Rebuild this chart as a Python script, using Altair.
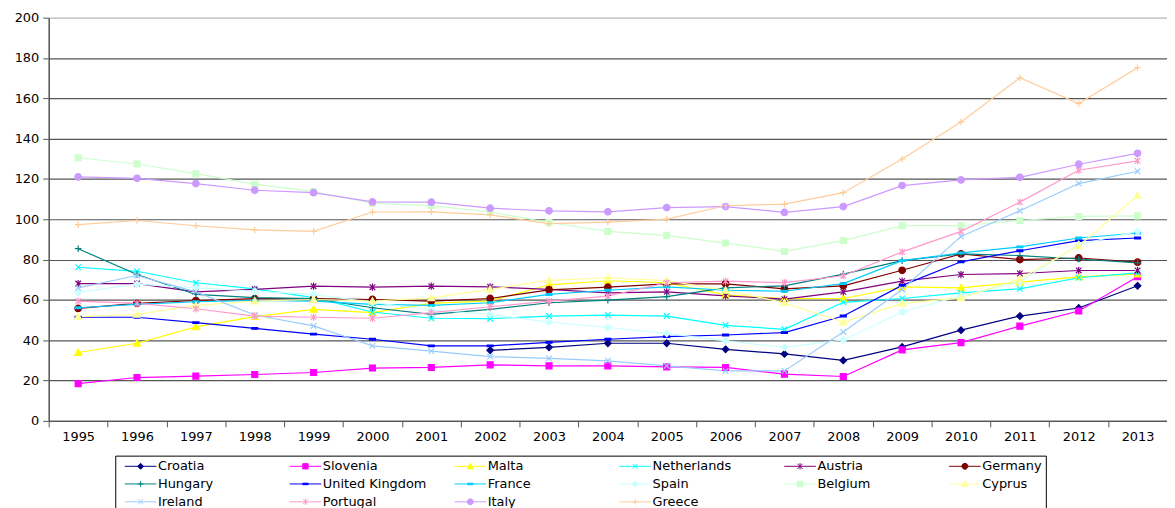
import altair as alt
import pandas as pd

years = [str(y) for y in range(1995, 2014)]

countries = ["Croatia", "Slovenia", "Malta", "Netherlands", "Austria", "Germany",
             "Hungary", "United Kingdom", "France", "Spain", "Belgium", "Cyprus",
             "Ireland", "Portugal", "Italy", "Greece"]

colors = ["#000080", "#FF00FF", "#FFFF00", "#00FFFF", "#800080", "#800000",
          "#008080", "#0000FF", "#00CCFF", "#CCFFFF", "#CCFFCC", "#FFFF99",
          "#99CCFF", "#FF99CC", "#CC99FF", "#FFCC99"]

croatia = [None, None, None, None, None, None, None, 35.0, 36.5, 38.5, 38.5, 35.5, 33.2, 30.0, 36.7, 45.0, 52.0, 56.0, 67.0]
slovenia = [18.5, 21.5, 22.2, 23.0, 24.0, 26.2, 26.5, 27.8, 27.3, 27.3, 26.8, 26.5, 23.2, 22.0, 35.2, 38.8, 47.0, 54.5, 71.5]
malta = [33.9, 38.5, 46.6, 51.7, 55.3, 53.7, 58.3, 59.5, 67.5, 69.5, 68.5, 62.5, 60.6, 60.7, 66.5, 66.0, 68.8, 71.4, 72.8]
netherlands = [76.2, 74.2, 68.5, 65.5, 61.1, 54.0, 50.9, 50.7, 52.0, 52.5, 52.0, 47.4, 45.4, 58.8, 60.7, 63.5, 65.5, 71.0, 73.4]
austria = [68.1, 68.1, 64.0, 65.2, 66.8, 66.3, 66.8, 66.5, 65.2, 63.5, 64.0, 62.0, 60.4, 64.0, 69.3, 72.6, 73.1, 74.6, 74.6]
germany = [55.8, 58.3, 59.7, 60.6, 60.6, 60.2, 59.4, 60.7, 65.0, 66.3, 68.0, 68.0, 65.5, 67.0, 74.7, 82.8, 80.0, 80.8, 78.7]
hungary = [85.4, 72.6, 62.7, 61.1, 60.6, 56.1, 52.8, 55.3, 58.6, 59.9, 61.6, 66.0, 67.0, 72.8, 79.5, 82.8, 82.0, 80.3, 78.4]
united_kingdom = [51.4, 51.4, 48.7, 45.9, 43.0, 40.5, 37.2, 37.2, 38.9, 40.5, 41.8, 42.6, 43.8, 52.0, 67.2, 78.9, 84.4, 89.4, 90.7]
france = [56.1, 57.8, 59.1, 59.7, 59.4, 57.8, 57.3, 58.6, 62.7, 64.8, 66.5, 64.8, 64.3, 68.1, 79.5, 83.3, 86.3, 90.7, 93.2]
spain = [63.7, 67.8, 66.0, 64.3, 62.7, 58.8, 55.0, 52.8, 49.0, 46.3, 43.4, 39.7, 36.5, 40.1, 54.0, 62.0, 69.0, 87.5, 94.0]
belgium = [130.5, 127.4, 122.6, 117.4, 113.7, 108.0, 106.8, 103.6, 98.4, 94.0, 92.0, 88.2, 84.1, 89.4, 96.8, 96.8, 99.4, 101.4, 101.7]
cyprus = [51.7, 52.8, 57.3, 59.4, 60.2, 59.4, 61.0, 65.2, 69.7, 71.0, 69.6, 64.8, 58.6, 49.0, 58.3, 61.0, 70.5, 86.9, 111.7]
ireland = [66.0, 72.1, 64.0, 52.5, 47.1, 37.2, 34.6, 31.9, 31.0, 29.8, 27.3, 24.8, 24.8, 44.1, 65.2, 91.5, 104.2, 117.7, 123.8]
portugal = [59.4, 58.3, 55.6, 52.0, 51.4, 50.9, 53.7, 56.6, 59.4, 61.9, 68.5, 69.3, 68.6, 72.0, 83.8, 94.0, 108.5, 124.3, 129.0]
italy = [121.0, 120.3, 117.7, 114.4, 113.2, 108.6, 108.5, 105.5, 104.2, 103.7, 105.8, 106.3, 103.4, 106.3, 116.7, 119.5, 120.8, 127.3, 132.7]
greece = [97.3, 99.4, 96.8, 94.7, 94.0, 103.6, 103.7, 102.2, 97.8, 98.6, 100.1, 106.7, 107.5, 113.2, 129.9, 148.3, 170.2, 157.4, 175.2]

series = [croatia, slovenia, malta, netherlands, austria, germany, hungary,
          united_kingdom, france, spain, belgium, cyprus, ireland, portugal,
          italy, greece]

y_ticks = list(range(0, 201, 20))

# marker shapes (unit paths)
DIAMOND = "M0,-1L1,0L0,1L-1,0Z"
SQUARE = "M-0.9,-0.9H0.9V0.9H-0.9Z"
TRIANGLE = "M0,-1.05L1.05,0.85H-1.05Z"
XMARK = "M-0.85,-0.85L0.85,0.85M-0.85,0.85L0.85,-0.85"
STAR = "M-0.85,-0.85L0.85,0.85M-0.85,0.85L0.85,-0.85M0,-1.1V1.1"
CIRCLE = "M1,0A1,1,0,1,1,-1,0A1,1,0,1,1,1,0Z"
PLUS = "M-1,0H1M0,-1V1"
DASH = "M-0.9,-0.25H0.9V0.25H-0.9Z"

markers = [DIAMOND, SQUARE, TRIANGLE, XMARK, STAR, CIRCLE,
           PLUS, DASH, DASH, DIAMOND, SQUARE, TRIANGLE,
           XMARK, STAR, CIRCLE, PLUS]
legend_paths = ["M-5.3,0H5.3" + m for m in markers]

rows = []
for name, vals in zip(countries, series):
    for yr, v in zip(years, vals):
        if v is not None:
            rows.append({"Year": yr, "Country": name, "Value": v})
df = pd.DataFrame(rows)

FONT = "DejaVu Sans"

x_enc = alt.X(
    "Year:O",
    sort=years,
    scale=alt.Scale(type="band", domain=years, paddingInner=0, paddingOuter=0),
    axis=alt.Axis(title=None, labelAngle=0, tickBand="extent", tickSize=6,
                  tickColor="#555555", domainColor="#555555", domainWidth=1.5,
                  labelPadding=4, labelFont=FONT, labelFontSize=13,
                  labelColor="black", grid=False),
)
y_enc = alt.Y(
    "Value:Q",
    scale=alt.Scale(domain=[0, 200], nice=False),
    axis=alt.Axis(title=None, values=y_ticks, tickSize=6, tickColor="#555555",
                  domainColor="#555555", domainWidth=1.5, labelPadding=4,
                  labelFont=FONT, labelFontSize=13, labelColor="black",
                  grid=True, gridWidth=1.2,
                  gridColor={"condition": {"test": "datum.value === 200", "value": "#c0c0c0"},
                             "value": "#555555"}),
)

base = alt.Chart(df)

lines = base.mark_line(strokeWidth=1.2).encode(
    x=x_enc, y=y_enc,
    color=alt.Color("Country:N", scale=alt.Scale(domain=countries, range=colors), legend=None),
    detail="Country:N",
)

points = base.mark_point(filled=True, size=44, strokeWidth=1.2, opacity=1).encode(
    x=x_enc, y=y_enc,
    fill=alt.Fill("Country:N", scale=alt.Scale(domain=countries, range=colors), legend=None),
    stroke=alt.Stroke("Country:N", scale=alt.Scale(domain=countries, range=colors), legend=None),
    shape=alt.Shape("Country:N", scale=alt.Scale(domain=countries, range=markers), legend=None),
)

leg = dict(
    title=None, orient="none", legendX=67, legendY=441, direction="horizontal",
    columns=6, gridAlign="all", symbolSize=36, symbolStrokeWidth=1,
    symbolOffset=15, labelOffset=11, columnPadding=22, rowPadding=4,
    labelFont=FONT, labelFontSize=13, labelColor="black", padding=4,
    strokeColor="black", fillColor="white", symbolOpacity=1,
)

legend_layer = base.mark_point(filled=True, size=36, strokeWidth=1, opacity=1).transform_filter(
    "datum.Value > 1000"
).encode(
    x=x_enc, y=y_enc,
    fill=alt.Fill("Country:N", scale=alt.Scale(domain=countries, range=colors), legend=alt.Legend(**leg)),
    stroke=alt.Stroke("Country:N", scale=alt.Scale(domain=countries, range=colors), legend=alt.Legend(**leg)),
    shape=alt.Shape("Country:N", scale=alt.Scale(domain=countries, range=legend_paths), legend=alt.Legend(**leg)),
)

chart = alt.layer(lines, points, legend_layer).resolve_scale(
    fill="independent", stroke="independent", shape="independent"
).properties(
    width=1126, height=406,
    autosize=alt.AutoSizeParams(type="none"),
    padding={"left": 41, "top": 8, "right": 0, "bottom": 86},
).configure_view(strokeWidth=0).configure(background="white")

chart.save("out.html", embed_options={"renderer": "svg", "actions": False})
